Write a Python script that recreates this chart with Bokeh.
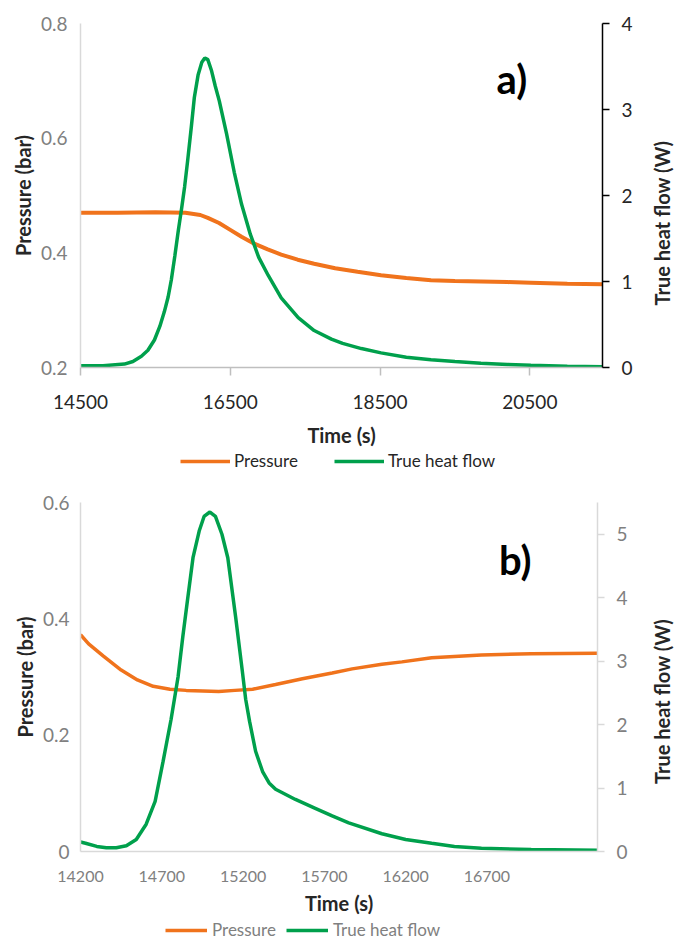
import math
from bokeh.plotting import figure
from bokeh.models import Range1d, LinearAxis, FixedTicker, Legend, LegendItem, Label
from bokeh.layouts import column, row
from bokeh.embed import file_html
from bokeh.resources import INLINE

# ---------------- data: panel a ----------------
a_p_time = [14500, 15000, 15500, 15900, 16100, 16200, 16350, 16500, 16650, 16820, 17000, 17180,
            17400, 17620, 17900, 18200, 18513, 18850, 19180, 19500, 19847, 20200, 20513, 21000, 21470]
a_pressure = [0.470, 0.470, 0.471, 0.470, 0.466, 0.461, 0.452, 0.440, 0.428, 0.416, 0.406, 0.397,
              0.388, 0.381, 0.373, 0.367, 0.361, 0.356, 0.352, 0.351, 0.350, 0.349, 0.348, 0.346, 0.345]
a_h_time = [14500, 14800, 15087, 15200, 15313, 15400, 15487, 15560, 15620, 15670, 15713, 15760,
            15807, 15850, 15890, 15930, 15980, 16020, 16070, 16120, 16160, 16200, 16250, 16300,
            16353, 16450, 16553, 16650, 16767, 16880, 17007, 17180, 17407, 17620, 17850, 18000,
            18250, 18513, 18850, 19180, 19500, 19847, 20200, 20513, 21000, 21470]
a_heat = [0.02, 0.02, 0.04, 0.07, 0.13, 0.20, 0.32, 0.48, 0.65, 0.82, 1.02, 1.30,
          1.60, 1.85, 2.10, 2.40, 2.80, 3.14, 3.40, 3.55, 3.60, 3.58, 3.45, 3.27,
          3.10, 2.72, 2.27, 1.90, 1.55, 1.28, 1.07, 0.81, 0.58, 0.43, 0.33, 0.28,
          0.22, 0.17, 0.12, 0.09, 0.07, 0.05, 0.035, 0.025, 0.015, 0.01]
a_xticks = [14500, 16500, 18500, 20500]
a_yticks = [0.2, 0.4, 0.6, 0.8]
a_y2ticks = [0, 1, 2, 3, 4]

# ---------------- data: panel b ----------------
b_p_time = [14200, 14250, 14341, 14450, 14550, 14647, 14750, 14850, 14953, 15050, 15150, 15259,
            15400, 15565, 15748, 15871, 16054, 16177, 16360, 16666, 16972, 17380]
b_pressure = [0.373, 0.357, 0.336, 0.312, 0.295, 0.284, 0.279, 0.277, 0.276, 0.275, 0.277, 0.279,
              0.287, 0.297, 0.307, 0.314, 0.322, 0.326, 0.333, 0.338, 0.340, 0.341]
b_h_time = [14200, 14231, 14300, 14359, 14420, 14482, 14543, 14604, 14659, 14708, 14757, 14800,
            14830, 14860, 14892, 14930, 14960, 14996, 15030, 15070, 15106, 15155, 15195, 15216,
            15240, 15277, 15320, 15360, 15400, 15522, 15644, 15748, 15850, 16054, 16200, 16360,
            16500, 16666, 16972, 17380]
b_heat = [0.15, 0.13, 0.08, 0.06, 0.06, 0.09, 0.19, 0.43, 0.79, 1.42, 2.08, 2.75,
          3.40, 4.00, 4.63, 5.05, 5.28, 5.35, 5.28, 5.00, 4.63, 3.68, 2.85, 2.40,
          2.05, 1.58, 1.26, 1.08, 0.98, 0.82, 0.68, 0.56, 0.45, 0.28, 0.19, 0.13,
          0.08, 0.05, 0.03, 0.02]
b_xticks = [14200, 14700, 15200, 15700, 16200, 16700]
b_yticks = [0, 0.2, 0.4, 0.6]
b_y2ticks = [0, 1, 2, 3, 4, 5]

series_names = ["Pressure", "True heat flow"]
right_label = "True heat flow (W)"
ORANGE = "#F0731C"
GREEN = "#00A04C"
FONT = "Lato"
DARK = "#262626"
GREY = "#808080"
LIGHT = "#D9D9D9"


def fmt(v):
    return "0" if v == 0 else (str(v) if isinstance(v, int) else ("%g" % v))


def base(width, height, xr, yr, y2r, mb):
    p = figure(width=width, height=height, output_backend="svg", toolbar_location=None,
               x_range=Range1d(*xr), y_range=Range1d(*yr))
    p.min_border_left, p.min_border_right, p.min_border_top, p.min_border_bottom = mb
    p.extra_y_ranges = {"w": Range1d(*y2r)}
    p.outline_line_color = None
    p.xgrid.grid_line_color = None
    p.ygrid.grid_line_color = None
    p.background_fill_color = "white"
    p.border_fill_color = "white"
    return p


def style_axis(ax, label, tick_size, tick_color, line_color, tick_out, lab_stand, ax_stand):
    ax.axis_label = label
    ax.axis_label_text_font = FONT
    ax.axis_label_text_font_style = "bold"
    ax.axis_label_text_font_size = "20px"
    ax.axis_label_text_color = DARK
    ax.axis_label_standoff = ax_stand
    ax.major_label_text_font = FONT
    ax.major_label_text_font_size = tick_size
    ax.major_label_text_color = tick_color
    ax.major_label_standoff = lab_stand
    ax.axis_line_color = line_color
    ax.axis_line_width = 1.5
    ax.minor_tick_line_color = None
    if tick_out:
        ax.major_tick_out = tick_out
        ax.major_tick_in = 0
        ax.major_tick_line_color = line_color
        ax.major_tick_line_width = 1.5
    else:
        ax.major_tick_out = 0
        ax.major_tick_in = 0
        ax.major_tick_line_color = None


def legend_strip(height, borders, p_time, p_vals, h_time, h_vals, loc, color, glyph_w, standoff, spacing):
    # A strip below the panel that only carries the legend; its lines are out of view.
    f = figure(width=674, height=height, output_backend="svg", toolbar_location=None,
               x_axis_type=None, y_axis_type=None,
               x_range=Range1d(0, 1), y_range=Range1d(0, 1))
    f.min_border_left, f.min_border_right = borders
    f.min_border_top = f.min_border_bottom = 0
    f.outline_line_color = None
    r1 = f.line(p_time, p_vals, line_color=ORANGE, line_width=3.5)
    r2 = f.line(h_time, h_vals, line_color=GREEN, line_width=3.5)
    leg = Legend(items=[LegendItem(label=series_names[0], renderers=[r1]),
                        LegendItem(label=series_names[1], renderers=[r2])],
                 orientation="horizontal", location=loc)
    leg.label_text_font = FONT
    leg.label_text_font_size = "17px"
    leg.label_text_color = color
    leg.glyph_width = glyph_w
    leg.label_standoff = standoff
    leg.spacing = spacing
    leg.padding = 0
    leg.margin = 0
    leg.border_line_color = None
    leg.background_fill_alpha = 0
    f.add_layout(leg)
    return f


def side_title(height, top, bottom, ypos):
    # Narrow strip to the right carrying the secondary axis title, read bottom-to-top.
    f = figure(width=26, height=height, output_backend="svg", toolbar_location=None,
               x_axis_type=None, y_axis_type=None,
               x_range=Range1d(0, 1), y_range=Range1d(0, 1))
    f.min_border_left = f.min_border_right = 0
    f.min_border_top = top
    f.min_border_bottom = bottom
    f.outline_line_color = None
    f.add_layout(Label(x=0.5, y=ypos, text=right_label, angle=math.pi / 2,
                       text_align="center", text_baseline="middle", text_font=FONT,
                       text_font_style="bold", text_font_size="20px", text_color=DARK))
    return f


# ---------------- panel a ----------------
pa = base(648, 452, (14500, 21470), (0.2, 0.8), (0, 4), (80, 46, 23, 85))
pa.line(a_p_time, a_pressure, line_color=ORANGE, line_width=4)
pa.line(a_h_time, a_heat, line_color=GREEN, line_width=3.5, y_range_name="w")
pa.xaxis.ticker = FixedTicker(ticks=a_xticks)
style_axis(pa.xaxis[0], "Time (s)", "19px", DARK, "#BFBFBF", 8, 19, 11)
pa.yaxis.ticker = FixedTicker(ticks=a_yticks)
pa.yaxis.major_label_overrides = {v: fmt(v) for v in a_yticks}
style_axis(pa.yaxis[0], "Pressure (bar)", "19px", GREY, LIGHT, 0, 13, 3)
ax2a = LinearAxis(y_range_name="w", ticker=FixedTicker(ticks=a_y2ticks))
style_axis(ax2a, None, "19px", DARK, "#000000", 7, 12, 0)
pa.add_layout(ax2a, "right")
pa.add_layout(Label(x=20260, y=0.704, text="a)", text_font=FONT, text_font_style="bold",
                    text_font_size="40px", text_color="#000000",
                    text_align="center", text_baseline="middle"))
ta = side_title(452, 23, 85, 0.42)
la = legend_strip(24, (80, 72), a_p_time, a_pressure, a_h_time, a_heat, (100, 5), DARK, 50, 4, 36)

# ---------------- panel b ----------------
pb = base(648, 443, (14200, 17380), (0, 0.6), (0, 5.5), (80, 51, 26, 68))
pb.line(b_p_time, b_pressure, line_color=ORANGE, line_width=3.5)
pb.line(b_h_time, b_heat, line_color=GREEN, line_width=3.5, y_range_name="w")
pb.xaxis.ticker = FixedTicker(ticks=b_xticks)
style_axis(pb.xaxis[0], "Time (s)", "16px", GREY, LIGHT, 0, 19, 6)
pb.yaxis.ticker = FixedTicker(ticks=b_yticks)
pb.yaxis.major_label_overrides = {v: fmt(v) for v in b_yticks}
style_axis(pb.yaxis[0], "Pressure (bar)", "19px", GREY, LIGHT, 0, 11, 3)
ax2b = LinearAxis(y_range_name="w", ticker=FixedTicker(ticks=b_y2ticks))
style_axis(ax2b, None, "19px", GREY, LIGHT, 7, 12, 0)
pb.add_layout(ax2b, "right")
pb.add_layout(Label(x=16874, y=0.502, text="b)", text_font=FONT, text_font_style="bold",
                    text_font_size="40px", text_color="#000000",
                    text_align="center", text_baseline="middle"))
tb = side_title(443, 26, 68, 0.43)
lb = legend_strip(22, (80, 77), b_p_time, b_pressure, b_h_time, b_heat, (85, 1), GREY, 42, 5, 10)

layout = column(row(pa, ta, spacing=0), la, row(pb, tb, spacing=0), lb, spacing=0)
open("out.html", "w").write(file_html(layout, INLINE))
